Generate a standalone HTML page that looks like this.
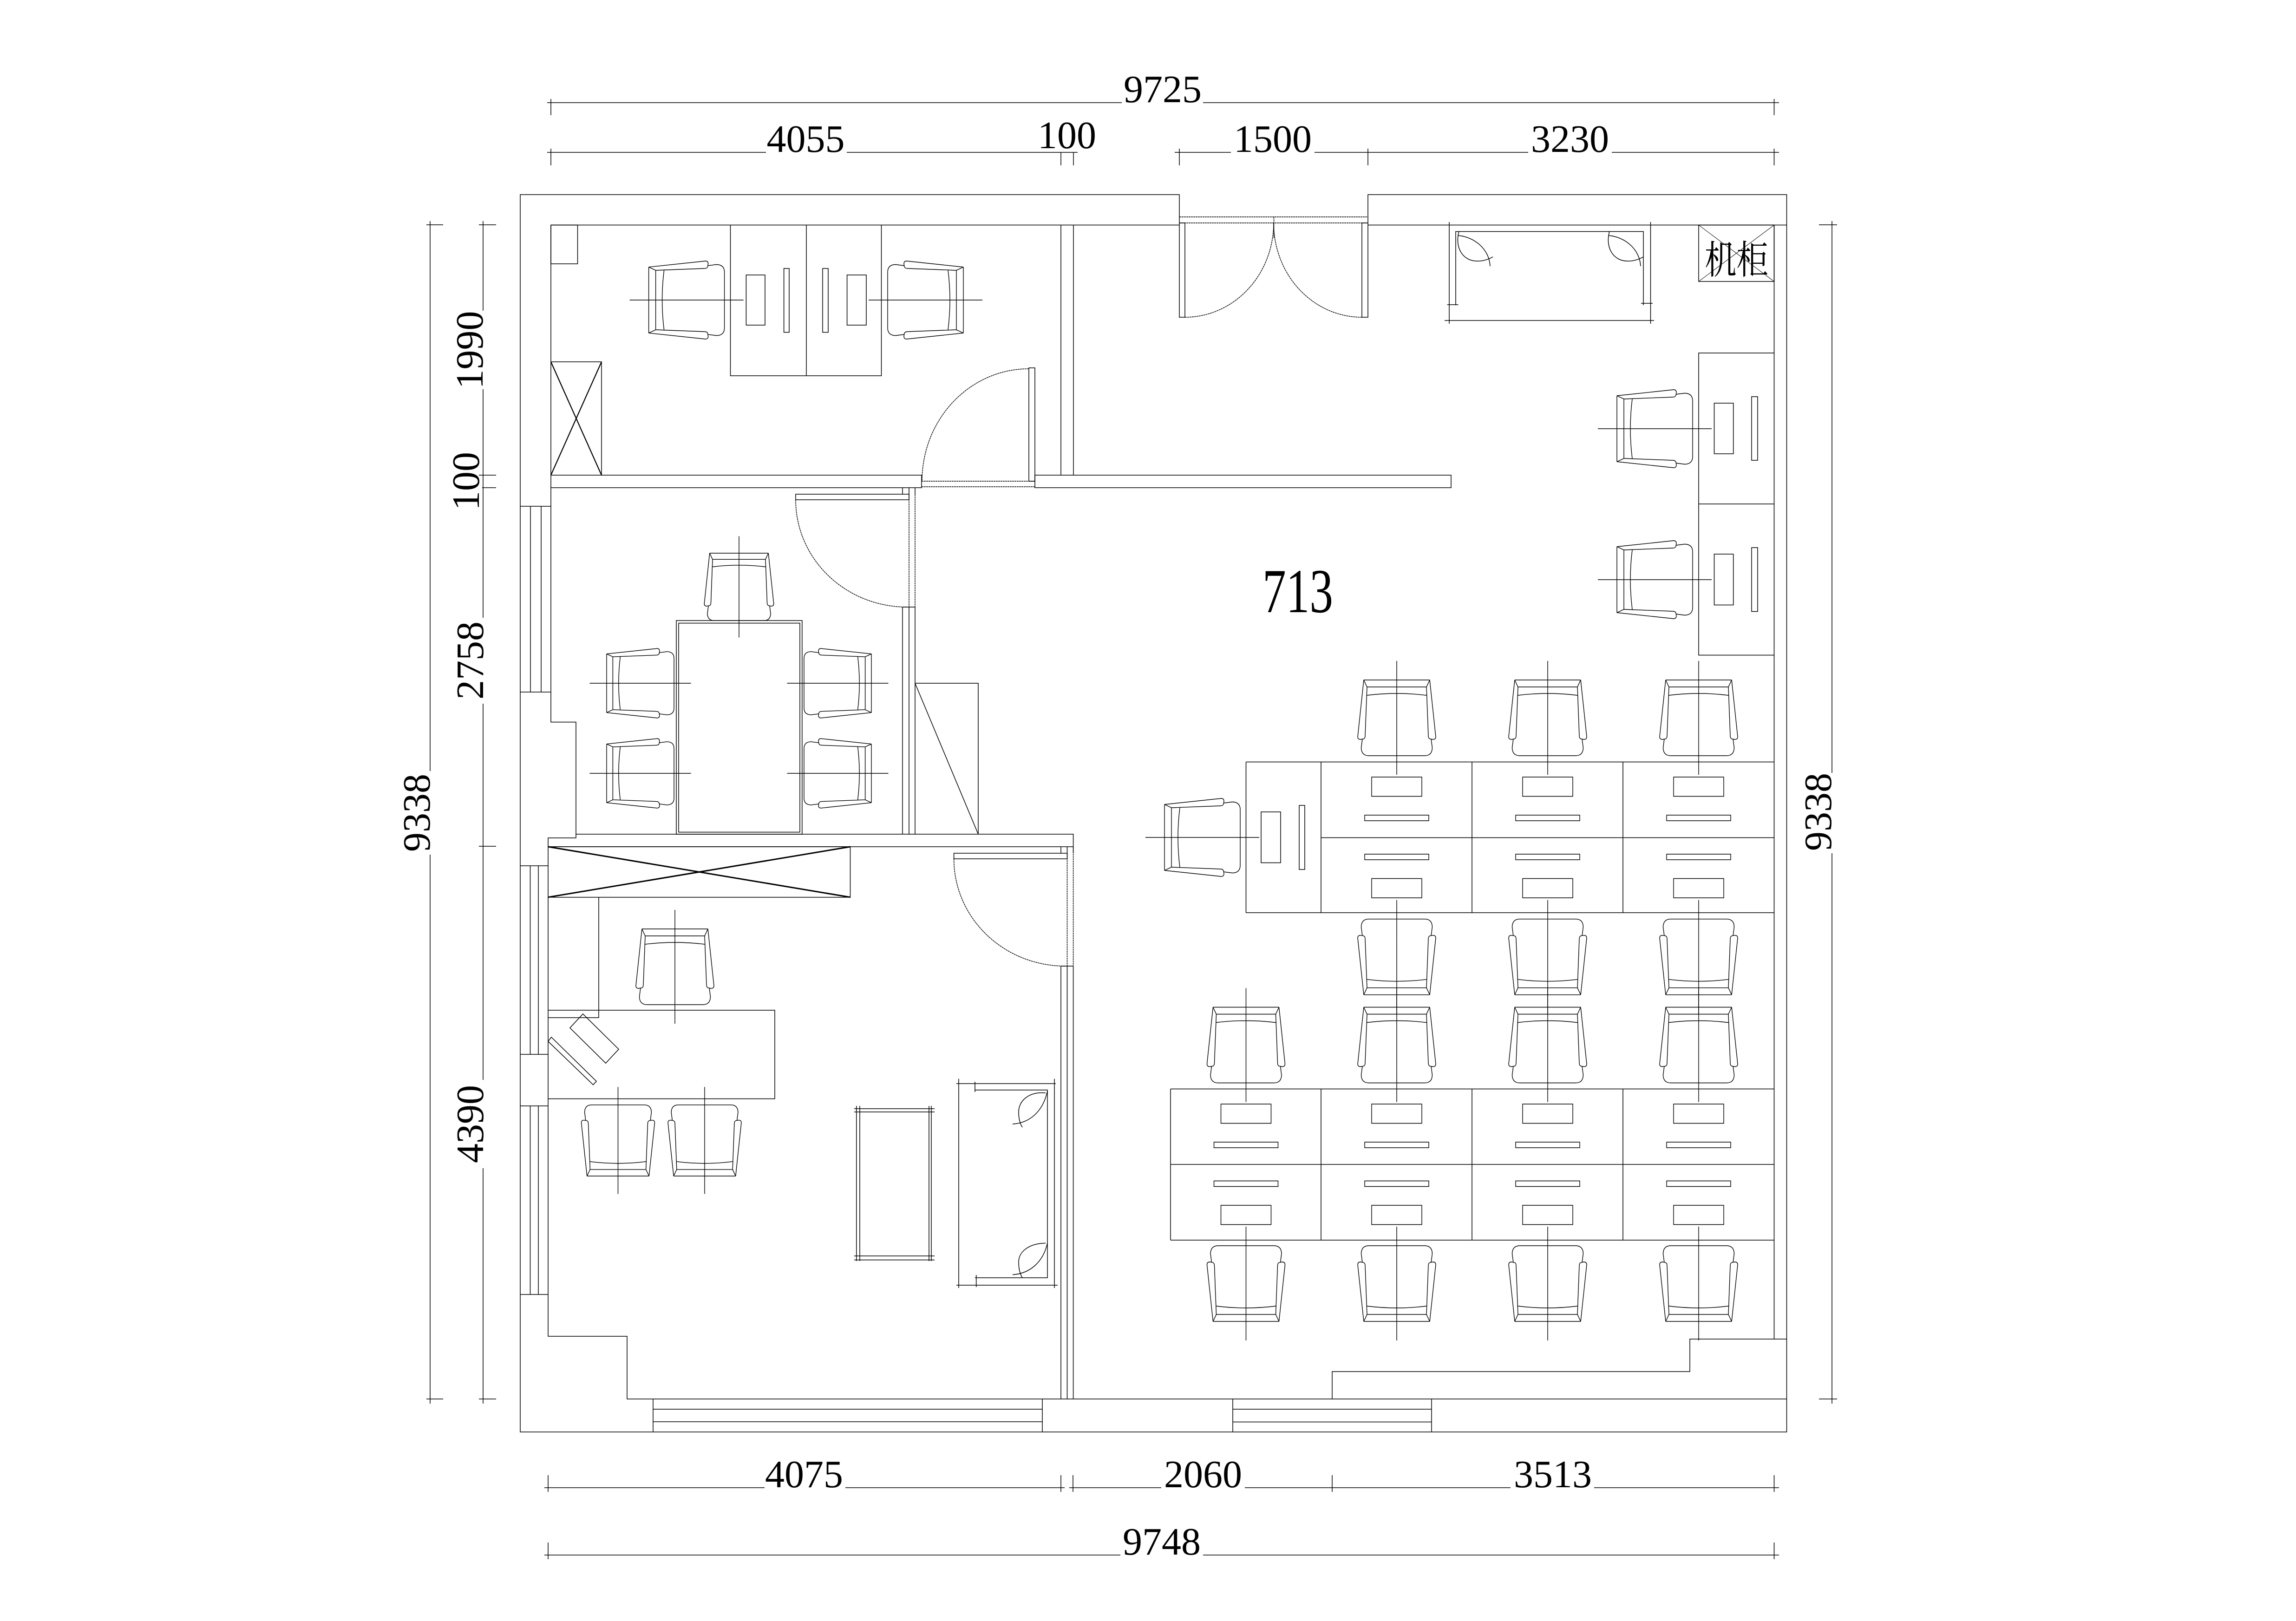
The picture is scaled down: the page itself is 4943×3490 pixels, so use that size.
<!DOCTYPE html>
<html><head><meta charset="utf-8"><style>
html,body{margin:0;padding:0;background:#fff}
svg{display:block}
text{font-family:"Liberation Serif","Noto Serif CJK SC",serif;fill:#000}
</style></head><body>
<svg xmlns="http://www.w3.org/2000/svg" width="4943" height="3490" viewBox="0 0 4943 3490">
<defs>
<g id="c" fill="none" stroke="#000" stroke-width="1.4">
<path vector-effect="non-scaling-stroke" d="M-71 0H71M-71 0L-84 122Q-84 128-78 128L-72 127Q-68 126-68 120L-64 15M-71 0L-64 15H64L71 0M71 0L84 122Q84 128 78 128L72 127Q68 126 68 120L64 15M-64 33Q0 25 64 33M-74 127L-76.500 146Q-76 163-60 163H60Q76 163 76.500 146L74 127M0-41V204"/>
</g>
<g id="mT" fill="none" stroke="#000" stroke-width="1.4"><path d="M-54 0h108v41.500h-108zM-69 82h138v12h-138z"/></g>
<g id="mB" fill="none" stroke="#000" stroke-width="1.4"><path d="M-69-94h138v12h-138zM-54-41.500h108v41.500h-108z"/></g>
</defs>
<rect width="4943" height="3490" fill="#fff"/>
<g fill="none" stroke="#000" stroke-width="1.500">
<!-- outer walls -->
<path d="M2539 480V419H1120V3083H3846.500V419H2945V480"/>
<path d="M1186 484.500H2539M2945 484.500H3846.500M1186 484.500V1554.600H1240V1796H2310.600V1823H1180V2877H1350V3012H3846.500M2868 3012V2953H3638V2883H3846.500"/>
<path d="M1240 1796V1804H1180V1823"/>
<path d="M3819.500 484.500V2883"/>
<!-- windows left -->
<path d="M1120 1090H1186M1120 1490H1186M1142 1090V1490M1165 1090V1490"/>
<path d="M1120 1864H1180M1120 2270H1180M1120 2381H1180M1120 2787H1180M1141.500 1864V2270M1159 1864V2270M1141.500 2381V2787M1159 2381V2787"/>
<!-- windows bottom -->
<path d="M1406 3012V3083M2244 3012V3083M1406 3034H2244M1406 3061H2244M2654 3012V3083M3082 3012V3083M2654 3034H3082M2654 3061.500H3082"/>
<!-- top-left room -->
<rect x="1186" y="484.500" width="57.500" height="83.500"/>
<path d="M1572.500 484.500V809H1897.500V484.500M1736 484.500V809"/>
<rect x="1606.400" y="592" width="40.600" height="108"/>
<rect x="1687.600" y="578" width="11.400" height="137.500"/>
<rect x="1771" y="578" width="12" height="137.500"/>
<rect x="1823.600" y="592" width="41.400" height="108"/>
<path d="M1186 779H1295V1023"/>
<path d="M1186 779L1295 1023M1295 779L1186 1023" stroke-width="2.200"/>
<path d="M2284 484.500V1023M2311 484.500V1023"/>
<path d="M1186 1023H1984V1050H1186M2228 1023H3124V1050H2228V1023"/>
<rect x="2215" y="792" width="13" height="244"/>
<path d="M1943 1050V1064M1957 1050V1064M1970 1050V1064"/>
<rect x="1713" y="1064" width="244" height="12"/>
<!-- meeting room -->
<path d="M1943 1307V1796M1957 1307V1796M1970 1307V1796M1943 1307H1970"/>
<path d="M1970 1471H2106V1796M1970 1471L2106 1796"/>
<rect x="1456" y="1336" width="270.800" height="460"/>
<rect x="1461" y="1341.600" width="261" height="450"/>
<!-- wardrobe -->
<path d="M1180 1823H1830.500V1931.700H1180"/>
<path d="M1180 1823L1830.500 1931.700M1830.500 1823L1180 1931.700" stroke-width="3"/>
<path d="M1289 1931.700V2191H1180"/>
<path d="M1180 2175H1668V2365.600H1180"/>
<path d="M1255 2183L1332 2259L1304 2289L1227 2213Z"/>
<path d="M1187 2233L1284 2328L1277 2335.500L1180 2242Z"/>
<!-- right partition of office -->
<path d="M2284 1823V1837M2297.500 1823V1837M2310.600 1823V1837"/>
<path d="M2284 2080V3012M2297.500 2080V3012M2310.600 2080V3012M2284 2080H2310.600"/>
<rect x="2053.600" y="1837" width="244" height="12"/>
<!-- coffee table -->
<path d="M1843.800 2381V2715M1851 2381V2715M2000 2381V2715M2005 2381V2715M1839 2387H2012M1839 2394H2012M1839 2704H2012M1839 2712.600H2012"/>
<!-- sofa office -->
<path d="M2059 2333H2273M2059 2767H2277M2064 2322.600V2773M2270 2322.600V2773M2099 2346.700H2255V2751H2099M2099 2329V2351M2101.700 2745V2771"/>
<path d="M2180 2420C2215 2418 2245 2395 2255 2349M2251 2353C2215 2350 2193 2370 2193 2394Q2193 2415 2201 2427"/>
<path d="M2180 2744.500C2215 2742 2245 2720 2255 2676.500M2251 2676.500C2215 2677 2193 2695 2193 2717Q2193 2738 2201 2751"/>
<!-- entry doors -->
<rect x="2539" y="480" width="12" height="203"/>
<rect x="2932" y="480" width="13" height="203"/>
<!-- top sofa -->
<path d="M3120 478V697M3553.500 478V697M3110 690H3561M3134 657V498.500H3538V657M3533 653H3558M3115.600 656H3139.500"/>
<path d="M3465 498C3455 535 3475 562 3503 562Q3520 563 3538 553M3463 507C3497 510 3530 535 3532 573"/>
<path d="M3141 498C3131 535 3151 562 3179 562Q3196 563 3214 553M3139 507C3173 510 3206 535 3208 573"/>
<!-- server -->
<rect x="3657" y="484.500" width="162.500" height="121.500"/>
<path d="M3657 484.500L3819.500 606M3819.500 484.500L3657 606" stroke-width="1"/>
<!-- right desks -->
<path d="M3819.500 760H3657V1410.500H3819.500M3657 1085H3819.500"/>
<rect x="3690.500" y="868" width="41.200" height="109"/>
<rect x="3771" y="854" width="13" height="137"/>
<rect x="3690.500" y="1193" width="41.200" height="109.500"/>
<rect x="3771" y="1179" width="13" height="137.500"/>
<!-- workstations upper -->
<path d="M2682.500 1640.500H3819.500M2682.500 1965H3819.500M2682.500 1640.500V1965M2844 1640.500V1965M3169 1640.500V1965M3494 1640.500V1965M2844 1803.500H3819.500"/>
<rect x="2715" y="1748" width="42" height="109.500"/>
<rect x="2797" y="1734" width="12" height="138"/>
<!-- workstations lower -->
<path d="M2520 2344.500H3819.500M2520 2507H3819.500M2520 2670H3819.500M2520 2344.500V2670M2844 2344.500V2670M3169 2344.500V2670M3494 2344.500V2670"/>
</g>
<g fill="none" stroke="#000" stroke-width="1.400" stroke-dasharray="4 1">
<path d="M2215 794A230 242 0 0 0 1985 1036"/>
<path d="M1713 1076A240 231 0 0 0 1953 1307"/>
<path d="M2053.600 1849A240 231 0 0 0 2294 2080"/>
<path d="M2551 683A191 203 0 0 0 2742 480"/>
<path d="M2932 683A190 203 0 0 1 2742 480"/>
<path d="M1984 1036H2228M1984 1048H2228M1957 1064V1307M1970 1064V1307M2297.500 1837V2080M2310.600 1823V2080M2539 467H2945M2539 480H2945M2742.500 467V513"/>
</g>
<!-- monitors -->
<use href="#mT" transform="translate(3007,1673)"/><use href="#mT" transform="translate(3332,1673)"/><use href="#mT" transform="translate(3657,1673)"/>
<use href="#mB" transform="translate(3007,1933)"/><use href="#mB" transform="translate(3332,1933)"/><use href="#mB" transform="translate(3657,1933)"/>
<use href="#mT" transform="translate(2682.500,2377)"/><use href="#mT" transform="translate(3007,2377)"/><use href="#mT" transform="translate(3332,2377)"/><use href="#mT" transform="translate(3657,2377)"/>
<use href="#mB" transform="translate(2682.500,2636.500)"/><use href="#mB" transform="translate(3007,2636.500)"/><use href="#mB" transform="translate(3332,2636.500)"/><use href="#mB" transform="translate(3657,2636.500)"/>
<!-- chairs -->
<use href="#c" transform="translate(1396.600,646) rotate(-90)"/>
<use href="#c" transform="translate(2074,646) rotate(90)"/>
<use href="#c" transform="translate(3481,923) rotate(-90)"/>
<use href="#c" transform="translate(3481,1248) rotate(-90)"/>
<use href="#c" transform="translate(3007,1464)"/><use href="#c" transform="translate(3332,1464)"/><use href="#c" transform="translate(3657,1464)"/>
<use href="#c" transform="translate(3007,2141.700) rotate(180)"/><use href="#c" transform="translate(3332,2141.700) rotate(180)"/><use href="#c" transform="translate(3657,2141.700) rotate(180)"/>
<use href="#c" transform="translate(2507,1803) rotate(-90)"/>
<use href="#c" transform="translate(2682.500,2168.500)"/><use href="#c" transform="translate(3007,2168.500)"/><use href="#c" transform="translate(3332,2168.500)"/><use href="#c" transform="translate(3657,2168.500)"/>
<use href="#c" transform="translate(2682.500,2845) rotate(180)"/><use href="#c" transform="translate(3007,2845) rotate(180)"/><use href="#c" transform="translate(3332,2845) rotate(180)"/><use href="#c" transform="translate(3657,2845) rotate(180)"/>
<use href="#c" transform="translate(1591,1191) scale(.89)"/>
<use href="#c" transform="translate(1306,1471) rotate(-90) scale(.89)"/>
<use href="#c" transform="translate(1306,1665) rotate(-90) scale(.89)"/>
<use href="#c" transform="translate(1876,1471) rotate(90) scale(.89)"/>
<use href="#c" transform="translate(1876,1665) rotate(90) scale(.89)"/>
<use href="#c" transform="translate(1453,2000)"/>
<use href="#c" transform="translate(1330.500,2532) rotate(180) scale(.94)"/>
<use href="#c" transform="translate(1517,2532) rotate(180) scale(.94)"/>
<!-- dimension lines -->
<g fill="none" stroke="#000" stroke-width="1.500">
<path d="M1178 221H2415M2590 221H3830M1186 213V248M3819.500 213V248"/>
<path d="M1178 328H1649M1823 328H2320M2529 328H2650M2830 328H3290M3470 328H3830M1186 320V356M2284 328V356M2311 328V356M2539 320V356M2945 320V356M3819.500 320V356"/>
<path d="M1172 3203H1646M1820 3203H2292M2302 3203H2500M2680 3203H3252M3432 3203H3830M1180 3176V3212M2284 3176V3212M2310 3176V3212M2868 3176V3212M3819.500 3176V3212"/>
<path d="M1172 3348H2412M2590 3348H3830M1180 3321V3357M3819.500 3321V3357"/>
<path d="M926 476V1660M926 1840V3022M918 484H954M918 3012H954"/>
<path d="M1040 476V669M1040 838V1330M1040 1515V2325M1040 2515V3022M1031 484H1068M1031 1023H1068M1038 1050H1068M1031 1822H1068M1031 3012H1068"/>
<path d="M3944 476V1664M3944 1837V3022M3916 484H3955M3916 3012H3955"/>
</g>
<!-- text -->
<g font-size="84" text-anchor="middle">
<text x="2503" y="220">9725</text>
<text x="1734.500" y="327">4055</text>
<text x="2297" y="319">100</text>
<text x="2740" y="327">1500</text>
<text x="3380" y="327">3230</text>
<text x="1731" y="3202">4075</text>
<text x="2590" y="3202">2060</text>
<text x="3343" y="3202">3513</text>
<text x="2501" y="3347">9748</text>
<text transform="translate(1039,753.500) rotate(-90)">1990</text>
<text transform="translate(1031,1036) rotate(-90)">100</text>
<text transform="translate(1040,1422) rotate(-90)">2758</text>
<text transform="translate(1040,2420) rotate(-90)">4390</text>
<text transform="translate(925,1750) rotate(-90)">9338</text>
<text transform="translate(3942,1748) rotate(-90)">9338</text>
</g>
<text x="2718" y="1318" font-size="135" textLength="152" lengthAdjust="spacingAndGlyphs">713</text>
<text x="3670" y="589" font-size="84" textLength="137" lengthAdjust="spacingAndGlyphs" style="font-family:'Liberation Serif','Noto Serif CJK SC','Noto Sans CJK SC',serif">机柜</text>
</svg>
</body></html>
